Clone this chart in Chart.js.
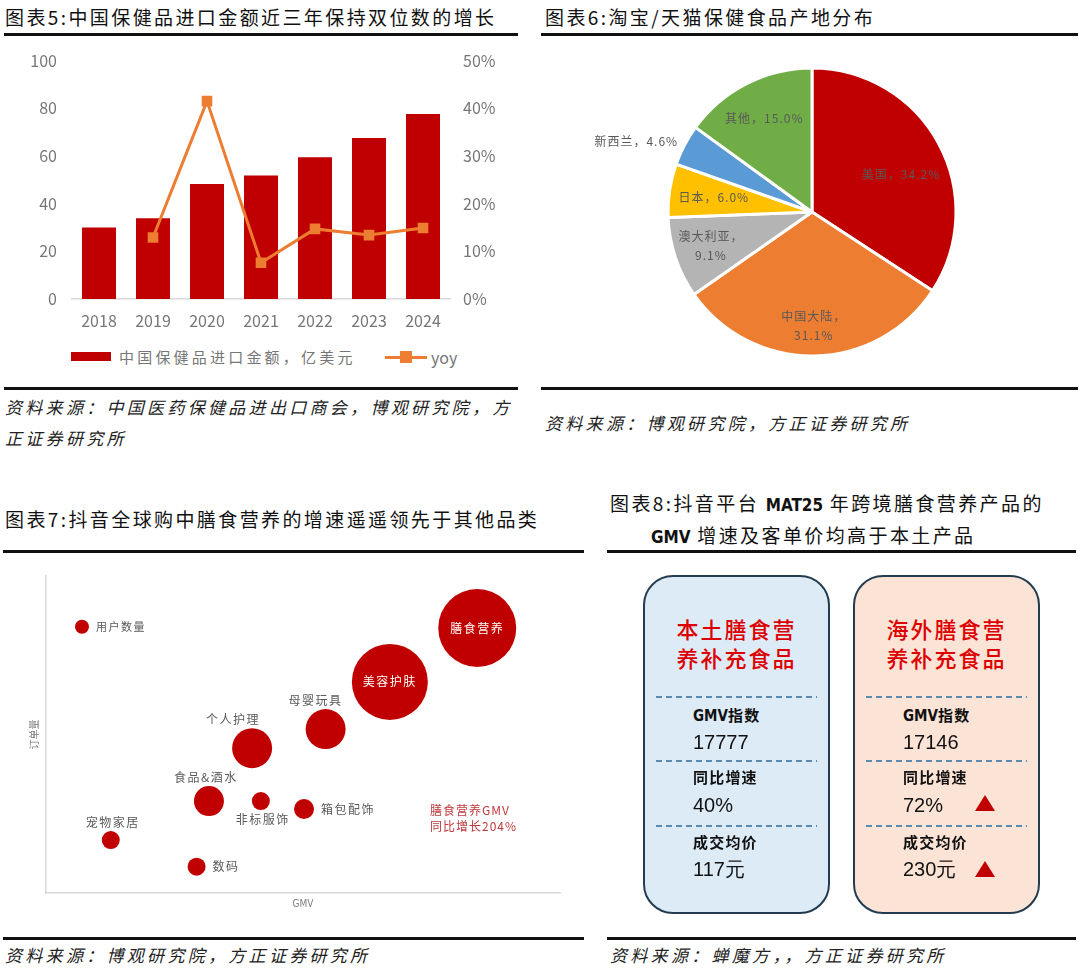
<!DOCTYPE html>
<html>
<head>
<meta charset="utf-8">
<script src="https://cdn.jsdelivr.net/npm/chart.js@4.4.1/dist/chart.umd.min.js"></script>
<style>
  body { margin: 0; background: #fff; width: 1080px; height: 974px; position: relative; overflow: hidden;
         font-family: "Noto Sans CJK SC", "Noto Sans", sans-serif; }
  .abs { position: absolute; white-space: nowrap; }
  .title { font-size: 19px; letter-spacing: 2.4px; color: #111; line-height: 24px; }
  .rule { position: absolute; height: 3px; background: #111; }
  .src { font-size: 17px; font-style: italic; letter-spacing: 3.3px; color: #222; line-height: 24px; }
  .narrow { font-family: "Liberation Sans Narrow", "DejaVu Sans Condensed", sans-serif; font-weight: bold; letter-spacing: 0; }
  canvas { position: absolute; }
  .card { position: absolute; top: 575px; width: 187px; height: 339px; border: 2px solid #243c4f;
          border-radius: 30px; box-sizing: border-box; }
  .ctitle { position: absolute; width: 187px; text-align: center; font-size: 22px; font-weight: 500;
            letter-spacing: 2px; color: #dd0000; line-height: 28px; }
  .dash { position: absolute; height: 2px; width: 161px;
          background: repeating-linear-gradient(to right, #5a8ab0 0 6px, transparent 6px 10px); }
  .lab { font-size: 15px; font-weight: bold; letter-spacing: 1.2px; color: #111; line-height: 20px; }
  .val { font-family: "Liberation Sans", Arial, sans-serif; font-size: 20px; color: #111; line-height: 24px; }
  .tri { position: absolute; width: 20px; height: 16px; background: #c00000;
         clip-path: polygon(50% 0, 100% 100%, 0 100%); }
</style>
</head>
<body>

<!-- titles -->
<div class="abs title" style="left:5px;top:5px;">图表5:中国保健品进口金额近三年保持双位数的增长</div>
<div class="rule" style="left:4px;top:33px;width:514px;"></div>
<div class="abs title" style="left:545px;top:5px;">图表6:淘宝/天猫保健食品产地分布</div>
<div class="rule" style="left:541px;top:33px;width:537px;"></div>
<div class="abs title" style="left:5px;top:507px;">图表7:抖音全球购中膳食营养的增速遥遥领先于其他品类</div>
<div class="rule" style="left:3px;top:550px;width:581px;"></div>
<div class="abs title" style="left:610px;top:491px;">图表8:抖音平台 <span class="narrow" style="font-size:17px;">MAT25</span> 年跨境膳食营养产品的</div>
<div class="abs title" style="left:651px;top:523px;"><span class="narrow" style="font-size:17px;">GMV</span> 增速及客单价均高于本土产品</div>
<div class="rule" style="left:607px;top:550px;width:469px;"></div>

<!-- sources -->
<div class="rule" style="left:4px;top:387px;width:514px;"></div>
<div class="abs src" style="left:5px;top:395px;">资料来源：中国医药保健品进出口商会，博观研究院，方</div>
<div class="abs src" style="left:5px;top:426px;">正证券研究所</div>
<div class="rule" style="left:541px;top:387px;width:537px;"></div>
<div class="abs src" style="left:545px;top:411px;">资料来源：博观研究院，方正证券研究所</div>
<div class="rule" style="left:3px;top:937px;width:581px;"></div>
<div class="abs src" style="left:5px;top:943px;">资料来源：博观研究院，方正证券研究所</div>
<div class="rule" style="left:607px;top:937px;width:469px;"></div>
<div class="abs src" style="left:610px;top:943px;">资料来源：蝉魔方，，方正证券研究所</div>

<!-- chart 5 -->
<canvas id="c5" width="520" height="309" style="left:0;top:36px;"></canvas>
<div id="legend5"></div>

<!-- chart 6 -->
<canvas id="c6" width="542" height="300" style="left:541px;top:62px;"></canvas>

<!-- chart 7 -->
<canvas id="c7" width="584" height="352" style="left:0;top:566px;"></canvas>
<div class="abs" style="left:430px;top:802px;font-size:12px;letter-spacing:1px;line-height:16px;color:#c0393b;">膳食营养GMV<br>同比增长204%</div>

<!-- chart 8 -->
<div id="cards"></div>

<script>
// ---- data: chart 5 ----
const years = ["2018", "2019", "2020", "2021", "2022", "2023", "2024"];
const importValue = [30, 33.9, 48.2, 51.8, 59.5, 67.5, 77.6]; // 亿美元
const importYoy = [null, 12.9, 41.5, 7.6, 14.7, 13.4, 14.9];  // %
const importLabel = "中国保健品进口金额，亿美元";
const yoyLabel = "yoy";

// ---- data: chart 6 ----
const origins = ["美国", "中国大陆", "澳大利亚", "日本", "新西兰", "其他"];
const originShare = [34.2, 31.1, 9.1, 6.0, 4.6, 15.0];

// ---- data: chart 7 ----
const categories = ["用户数量", "宠物家居", "数码", "食品&酒水", "个人护理", "非标服饰", "箱包配饰", "母婴玩具", "美容护肤", "膳食营养"];
const gmv = [7.0, 12.6, 29.3, 31.7, 40.1, 41.8, 50.2, 54.4, 66.9, 83.9];
const orders = [84.0, 16.7, 8.3, 29.0, 45.7, 29.0, 26.5, 51.7, 66.6, 83.6];
const bubbleSize = [7, 9, 9, 15, 20, 9, 10, 20, 38, 39];

// ---- data: chart 8 ----
const cardTitles = [["本土膳食营", "养补充食品"], ["海外膳食营", "养补充食品"]];
const gmvIndex = ["17777", "17146"];
const yoyGrowth = ["40%", "72%"];
const avgPrice = ["117元", "230元"];

const RED = "#C00000";
const ORANGE = "#ED7D31";
const TICK = "#767676";

Chart.defaults.font.family = '"Noto Sans CJK SC", "Noto Sans", sans-serif';
Chart.defaults.animation = false;
Chart.defaults.plugins.legend.display = false;
Chart.defaults.plugins.tooltip.enabled = false;

// chart 5: bars + yoy line
new Chart(document.getElementById("c5"), {
  data: {
    labels: years,
    datasets: [
      { type: "line", label: yoyLabel, data: importYoy, yAxisID: "y1", order: 0,
        borderColor: ORANGE, backgroundColor: ORANGE, borderWidth: 3,
        pointStyle: "rect", pointRadius: 7.5, pointBorderWidth: 0 },
      { type: "bar", label: importLabel, data: importValue, yAxisID: "y", order: 1,
        backgroundColor: RED, categoryPercentage: 1, barPercentage: 0.63 }
    ]
  },
  options: {
    responsive: false,
    layout: { autoPadding: false, padding: { top: 17, left: 0, right: 0, bottom: 0 } },
    scales: {
      x: {
        grid: { display: false, drawTicks: false },
        border: { display: true, color: "#d9d9d9", width: 1.5 },
        ticks: { color: TICK, font: { size: 16 }, padding: 12 },
        afterFit: s => { s.height = 46; }
      },
      y: {
        position: "left", min: 0, max: 100,
        grid: { display: false, drawTicks: false }, border: { display: false },
        ticks: { stepSize: 20, color: TICK, font: { size: 16 }, padding: 15 },
        afterFit: s => { s.width = 72; }
      },
      y1: {
        position: "right", min: 0, max: 50,
        grid: { display: false, drawTicks: false }, border: { display: false },
        ticks: { stepSize: 10, color: TICK, font: { size: 16 }, padding: 13, callback: v => v + "%" },
        afterFit: s => { s.width = 70; }
      }
    }
  }
});

// legend for chart 5
document.getElementById("legend5").innerHTML =
  '<div class="abs" style="left:71px;top:352px;width:40px;height:9px;background:' + RED + ';"></div>' +
  '<div class="abs" style="left:119px;top:345px;font-size:15px;letter-spacing:3.2px;line-height:24px;color:' + TICK + ';">' + importLabel + '</div>' +
  '<div class="abs" style="left:385px;top:355.5px;width:42px;height:3px;background:' + ORANGE + ';"></div>' +
  '<div class="abs" style="left:400px;top:351px;width:12px;height:12px;background:' + ORANGE + ';"></div>' +
  '<div class="abs" style="left:431px;top:345px;font-size:16px;line-height:24px;color:' + TICK + ';">' + yoyLabel + '</div>';

// chart 6: pie with in-slice labels
const pieLabels = {
  id: "pieLabels",
  afterDatasetsDraw(chart, args, opts) {
    const { ctx } = chart;
    const arcs = chart.getDatasetMeta(0).data;
    ctx.save();
    ctx.font = '12px "Noto Sans CJK SC"';
    ctx.letterSpacing = "1px";
    ctx.fillStyle = "#595959";
    ctx.textBaseline = "middle";
    arcs.forEach((arc, i) => {
      const mid = (arc.startAngle + arc.endAngle) / 2 + opts.turn[i];
      const rr = arc.outerRadius * opts.radius[i];
      const x = arc.x + Math.cos(mid) * rr;
      const y = arc.y + Math.sin(mid) * rr;
      const pct = originShare[i].toFixed(1) + "%";
      const lines = opts.wrap[i] ? [origins[i] + "，", pct] : [origins[i] + "，" + pct];
      ctx.textAlign = opts.align[i];
      lines.forEach((t, k) => ctx.fillText(t, x, y + (k - (lines.length - 1) / 2) * 19));
    });
    ctx.restore();
  }
};

new Chart(document.getElementById("c6"), {
  type: "pie",
  data: {
    labels: origins,
    datasets: [{
      data: originShare,
      backgroundColor: [RED, ORANGE, "#B4B4B4", "#FFC000", "#5B9BD5", "#70AD47"],
      borderColor: "#fff",
      borderWidth: 3
    }]
  },
  options: {
    responsive: false,
    radius: 144,
    plugins: {
      pieLabels: {
        radius: [0.67, 0.79, 0.74, 0.69, 1.05, 0.73],
        turn: [0.1, 0, 0, 0, 0, 0],
        wrap: [false, true, true, false, false, false],
        align: ["center", "center", "center", "center", "right", "center"]
      }
    }
  },
  plugins: [pieLabels]
});

// chart 7: bubble
const bubbleLabels = {
  id: "bubbleLabels",
  afterDatasetsDraw(chart, args, opts) {
    const { ctx } = chart;
    const pts = chart.getDatasetMeta(0).data;
    ctx.save();
    ctx.textBaseline = "middle";
    ctx.letterSpacing = "1.5px";
    pts.forEach((p, i) => {
      const r = bubbleSize[i];
      const place = opts.place[i];
      ctx.font = opts.size[i] + 'px "Noto Sans CJK SC"';
      let x = p.x + opts.dx[i], y = p.y, align = "center";
      if (place === "right") { x = p.x + r + 7; align = "left"; }
      else if (place === "above") y = p.y - r - 9;
      else if (place === "below") y = p.y + r + 9;
      ctx.fillStyle = place === "center" ? "#fff" : "#595959";
      ctx.textAlign = align;
      ctx.fillText(categories[i], x, y);
    });
    ctx.restore();
  }
};

new Chart(document.getElementById("c7"), {
  type: "bubble",
  data: {
    datasets: [{
      data: categories.map((c, i) => ({ x: gmv[i], y: orders[i], r: bubbleSize[i] })),
      backgroundColor: RED,
      borderWidth: 0,
      clip: false
    }]
  },
  options: {
    responsive: false,
    layout: { autoPadding: false, padding: { top: 10, right: 24, left: 0, bottom: 0 } },
    scales: {
      x: {
        min: 0, max: 100,
        grid: { display: false, drawTicks: false },
        border: { display: true, color: "#d9d9d9", width: 1.5 },
        ticks: { display: false },
        title: { display: true, text: "GMV", color: "#7f7f7f", padding: { top: 0, bottom: 8 },
                 font: { family: '"Liberation Sans Narrow", "DejaVu Sans Condensed", sans-serif', size: 10 } },
        afterFit: s => { s.height = 25; }
      },
      y: {
        min: 0, max: 100,
        grid: { display: false, drawTicks: false },
        border: { display: true, color: "#d9d9d9", width: 1.5 },
        ticks: { display: false },
        title: { display: true, text: "订单量", color: "#7f7f7f", padding: { top: 28.5, bottom: 0 },
                 font: { size: 10 } },
        afterFit: s => { s.width = 46; }
      }
    },
    plugins: {
      bubbleLabels: {
        place: ["right", "above", "right", "above", "above", "below", "right", "above", "center", "center"],
        dx: [0, 2, 0, -3, -19, 2, 0, -10, 0, 0],
        size: [11, 12, 12, 12, 12, 12, 12, 12, 12, 12]
      }
    }
  },
  plugins: [bubbleLabels]
});

// chart 8: two comparison cards
const cardLeft = [643, 853];
const cardBg = ["#DDEBF7", "#FBE3D6"];
let html = "";
cardLeft.forEach((L, i) => {
  html += '<div class="card" style="left:' + L + 'px;background:' + cardBg[i] + ';"></div>';
  html += '<div class="ctitle" style="left:' + L + 'px;top:614px;">' + cardTitles[i][0] + '</div>';
  html += '<div class="ctitle" style="left:' + L + 'px;top:643px;">' + cardTitles[i][1] + '</div>';
  [696, 760, 825].forEach(y => { html += '<div class="dash" style="left:' + (L + 13) + 'px;top:' + y + 'px;"></div>'; });
  const x = L + 50;
  html += '<div class="abs lab" style="left:' + x + 'px;top:705px;"><span class="narrow" style="font-size:15px;">GMV</span>指数</div>';
  html += '<div class="abs val" style="left:' + x + 'px;top:730px;">' + gmvIndex[i] + '</div>';
  html += '<div class="abs lab" style="left:' + x + 'px;top:767px;">同比增速</div>';
  html += '<div class="abs val" style="left:' + x + 'px;top:793px;">' + yoyGrowth[i] + '</div>';
  html += '<div class="abs lab" style="left:' + x + 'px;top:832px;">成交均价</div>';
  html += '<div class="abs val" style="left:' + x + 'px;top:857px;">' + avgPrice[i] + '</div>';
});
html += '<div class="tri" style="left:975px;top:795px;"></div>';
html += '<div class="tri" style="left:975px;top:861px;"></div>';
document.getElementById("cards").innerHTML = html;
</script>
</body>
</html>
